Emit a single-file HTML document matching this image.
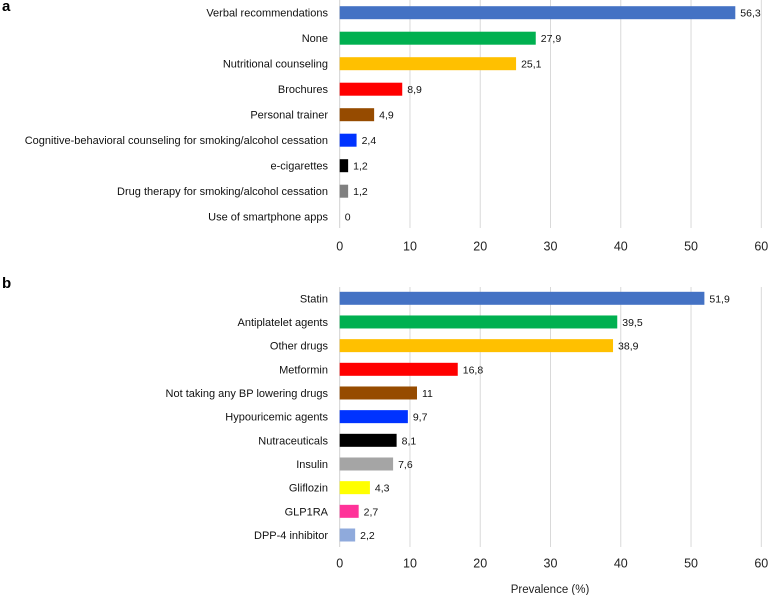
<!DOCTYPE html>
<html><head><meta charset="utf-8"><style>
body{margin:0;background:#fff;}
svg text{font-family:"Liberation Sans",sans-serif;}
</style></head><body>
<svg id="c" width="768" height="595" xmlns="http://www.w3.org/2000/svg"></svg>
<script>
const catsA=["Verbal recommendations","None","Nutritional counseling","Brochures","Personal trainer","Cognitive-behavioral counseling for smoking/alcohol cessation","e-cigarettes","Drug therapy for smoking/alcohol cessation","Use of smartphone apps"];
const valsA=[56.3,27.9,25.1,8.9,4.9,2.4,1.2,1.2,0];
const labelsA=["56,3","27,9","25,1","8,9","4,9","2,4","1,2","1,2","0"];
const colorsA=["#4472C4","#00B050","#FFC000","#FF0000","#964B00","#0033FF","#000000","#808080","#cccccc"];
const catsB=["Statin","Antiplatelet agents","Other drugs","Metformin","Not taking any BP lowering drugs","Hypouricemic agents","Nutraceuticals","Insulin","Gliflozin","GLP1RA","DPP-4 inhibitor"];
const valsB=[51.9,39.5,38.9,16.8,11,9.7,8.1,7.6,4.3,2.7,2.2];
const labelsB=["51,9","39,5","38,9","16,8","11","9,7","8,1","7,6","4,3","2,7","2,2"];
const colorsB=["#4472C4","#00B050","#FFC000","#FF0000","#964B00","#0033FF","#000000","#A5A5A5","#FFFF00","#FF3399","#8FAADC"];
const ticks=[0,10,20,30,40,50,60];
const svg=document.getElementById('c');
const NS="http://www.w3.org/2000/svg";
const x0=339.7,x60=761.3;
function xs(v){return x0+(x60-x0)*v/60;}
function mk(tag,attrs,parent){const e=document.createElementNS(NS,tag);for(const k in attrs)e.setAttribute(k,attrs[k]);(parent||svg).appendChild(e);return e;}
function panel(cats,vals,labels,colors,yFirst,yLast,gTop,gBot,tickY,letter,letterY,name){
  const g=mk('g',{});
  
  
  const step=(yLast-yFirst)/(cats.length-1);
  ticks.forEach(t=>{
    const l=mk('line',{x1:xs(t),x2:xs(t),y1:gTop,y2:gBot,stroke:t===0?'#d0d0d0':'#d9d9d9','stroke-width':1},g);
    
    
    const tx=mk('text',{x:xs(t),y:tickY+4.5,'font-size':12.5,'text-anchor':'middle',fill:'#222'},g);
    tx.textContent=t;
    
    
  });
  cats.forEach((c,i)=>{
    const cy=yFirst+i*step;
    const lab=mk('text',{x:328,y:cy+4,'font-size':11,'text-anchor':'end',fill:'#111'},g);
    lab.textContent=c;
    
    
    const r=mk('rect',{x:xs(0),y:cy-6.5,width:Math.max(0,xs(vals[i])-xs(0)),height:13,fill:colors[i]},g);
    
    
    const vl=mk('text',{x:xs(vals[i])+5,y:cy+4,'font-size':10.5,fill:'#111'},g);
    vl.textContent=labels[i];
    
    
  });
  const L=mk('text',{x:2,y:letterY,'font-size':15,'font-weight':'bold',fill:'#000'},g);
  L.textContent=letter;
  
  
}
panel(catsA,valsA,labelsA,colorsA,12.7,216.7,0,228,246,'a',11,'panel-a');
panel(catsB,valsB,labelsB,colorsB,298.3,535,287,547,563,'b',288,'panel-b');
const xt=mk('text',{x:550,y:593,'font-size':11.5,'text-anchor':'middle',fill:'#222'});
xt.textContent='Prevalence (%)';


</script>
</body></html>
